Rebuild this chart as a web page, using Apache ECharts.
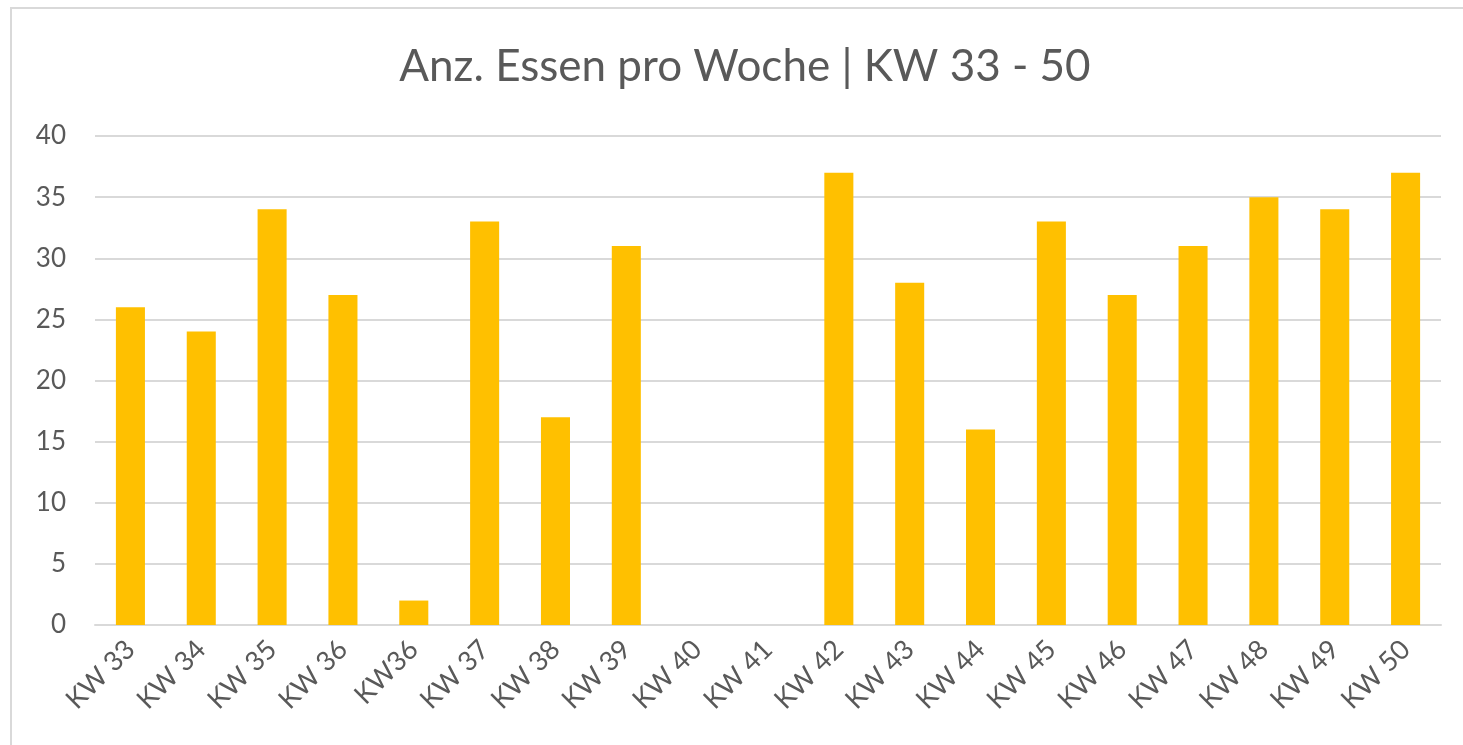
<!DOCTYPE html>
<html>
<head>
<meta charset="utf-8">
<script src="https://cdn.jsdelivr.net/npm/echarts@6/dist/echarts.min.js"></script>
<style>
  html, body { margin: 0; padding: 0; background: #fff; }
  #chart { width: 1463px; height: 745px; }
</style>
</head>
<body>
<div id="chart"></div>
<script>
// Kalenderwochen (KW36 kommt im Original zweimal vor)
const weeks = ["KW 33", "KW 34", "KW 35", "KW 36", "KW36", "KW 37", "KW 38", "KW 39", "KW 40", "KW 41",
  "KW 42", "KW 43", "KW 44", "KW 45", "KW 46", "KW 47", "KW 48", "KW 49", "KW 50"];
const meals = [26, 24, 34, 27, 2, 33, 17, 31, 0, 0, 37, 28, 16, 33, 27, 31, 35, 34, 37];

const titleText = "Anz. Essen pro Woche | KW 33 - 50";
const textColor = "#595959";
const lineColor = "#d9d9d9";

const chart = echarts.init(document.getElementById("chart"));

const option = {
  animation: false,
  textStyle: { fontFamily: "Lato" },
  graphic: [
    {
      type: "rect",
      shape: { x: 11, y: 8, width: 1500, height: 800 },
      style: { fill: "none", stroke: lineColor, lineWidth: 2 },
      silent: true,
    },
    {
      type: "text",
      x: 745,
      y: 67,
      style: {
        text: titleText,
        fill: textColor,
        font: "44px Lato",
        textAlign: "center",
        textVerticalAlign: "middle",
      },
    },
  ],
  grid: {
    left: 95,
    right: 22,
    top: 136,
    bottom: 120,
    containLabel: false,
  },
  xAxis: {
    type: "category",
    data: weeks,
    axisLine: { lineStyle: { color: lineColor, width: 2 } },
    axisTick: { show: false },
    axisLabel: {
      rotate: 45,
      interval: 0,
      margin: 20,
      color: textColor,
      fontSize: 27,
      fontFamily: "Lato",
    },
  },
  yAxis: {
    type: "value",
    min: 0,
    max: 40,
    interval: 5,
    axisLine: { show: false },
    axisTick: { show: false },
    axisLabel: {
      margin: 29,
      color: textColor,
      fontSize: 26,
      fontFamily: "Lato",
    },
    splitLine: { lineStyle: { color: lineColor, width: 2 } },
  },
  series: [
    {
      type: "bar",
      data: meals,
      barWidth: "41%",
      itemStyle: { color: "#FFC000" },
    },
  ],
};

chart.setOption(option);
</script>
</body>
</html>
